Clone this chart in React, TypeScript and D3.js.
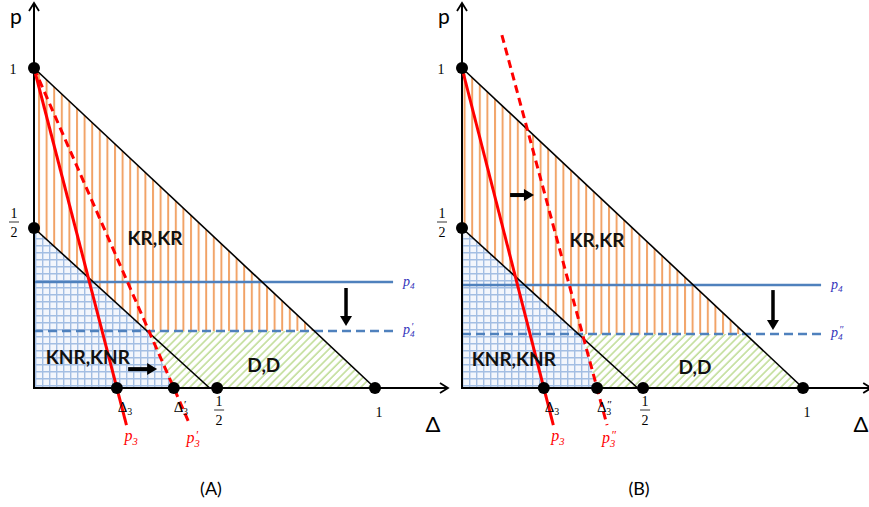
import React from 'react';
import * as d3 from 'd3';

const W = 869;
const H = 507;

// one entry per panel: (A), (B)
const panelNames = ['(A)', '(B)'];
const panelOrigins = [34, 462];
const p4Levels = [0.331, 0.322];
const p4ShiftedLevels = [0.178, 0.169];
const primeMarks = ['\u2032', '\u2033'];
const delta3Values = [0.243, 0.24];
const delta3ShiftedValues = [0.41, 0.396];
const p3ShiftedStart = [[0, 1], [0.117, 1.103]];
const halfTickValues = [0.537, 0.531];
const xAxisEnds = [1.214, 1.2];

// shared boundaries
const upperLine = [[0, 1], [1, 0]];
const lowerLine = [[0, 0.5], [0.515, 0]];
const redLineEnd = -0.116;
const p4LineEnd = 1.053;
const yTickValues = [1, 0.5];
const yTickLabels = ['1', '1/2'];

const regionLabels = ['KR,KR', 'KNR,KNR', 'D,D'];

const serif = '"Liberation Serif", "DejaVu Serif", serif';
const sans = 'Lato, "Open Sans", sans-serif';

// Δ where the segment a-b reaches level p
const atP = (a: number[], b: number[], p: number) =>
  a[0] + ((p - a[1]) * (b[0] - a[0])) / (b[1] - a[1]);

function Fraction({ x, y }: { x: number; y: number }) {
  return (
    <g fontFamily={serif} fontSize={14} textAnchor="middle">
      <text x={x} y={y - 3}>1</text>
      <line x1={x - 5} x2={x + 5} y1={y + 1} y2={y + 1} stroke="#000" strokeWidth={0.8} />
      <text x={x} y={y + 16}>2</text>
    </g>
  );
}

// symbol with subscript and optional prime stacked above it
function Sym({ x, y, main, sub, prime, fill = '#000', italic = false, size = 15 }:
  { x: number; y: number; main: string; sub: string; prime?: string; fill?: string; italic?: boolean; size?: number }) {
  const w = main === 'Δ' ? size * 0.62 : size * 0.5;
  return (
    <g fontFamily={serif} fill={fill} fontStyle={italic ? 'italic' : 'normal'}>
      <text x={x} y={y} fontSize={size}>{main}</text>
      <text x={x + w} y={y + size * 0.22} fontSize={size * 0.66}>{sub}</text>
      {prime && <text x={x + w + 1} y={y - size * 0.28} fontSize={size * 0.75}>{prime}</text>}
    </g>
  );
}

function Panel({ i }: { i: number }) {
  const ox = panelOrigins[i];
  const x = d3.scaleLinear().domain([0, 1]).range([ox, ox + 341]);
  const y = d3.scaleLinear().domain([0, 1]).range([388, 68]);
  const line = d3.line<number[]>().x((d) => x(d[0])).y((d) => y(d[1]));

  const p4 = p4Levels[i];
  const p4s = p4ShiftedLevels[i];
  const d3v = delta3Values[i];
  const d3s = delta3ShiftedValues[i];
  const p3a = [0, 1];
  const p3b = [d3v, 0];
  const q3a = p3ShiftedStart[i];
  const q3b = [d3s, 0];

  const U = [atP(upperLine[0], upperLine[1], p4s), p4s];
  const L = [atP(lowerLine[0], lowerLine[1], p4s), p4s];
  const Q = [atP(q3a, q3b, p4s), p4s];

  const orange = [[0, 1], U, L, [0, 0.5]];
  const green = [Q, U, [1, 0], [d3s, 0]];
  const blue = [[0, 0], [0, 0.5], L, Q, [d3s, 0]];

  const p3Line = [p3a, [atP(p3a, p3b, redLineEnd), redLineEnd]];
  const q3Line = [q3a, [atP(q3a, q3b, redLineEnd), redLineEnd]];

  const xEnd = x(xAxisEnds[i]);
  const prime = primeMarks[i];

  const labelPos = i === 0
    ? [[0.355, 0.469], [0.158, 0.097], [0.674, 0.072]]
    : [[0.396, 0.4625], [0.152, 0.091], [0.683, 0.066]];
  const rightArrow = i === 0 ? [0.276, 0.361, 0.059] : [0.141, 0.211, 0.603];
  const downArrow = i === 0 ? [0.915, 0.3125, 0.194] : [0.912, 0.306, 0.181];

  const dots = [[0, 1], [0, 0.5], [d3v, 0], [d3s, 0], [halfTickValues[i], 0], [1, 0]];

  return (
    <g>
      <path d={line(blue) + 'Z'} fill="url(#blueGrid)" />
      <path d={line(orange) + 'Z'} fill="url(#orangeLines)" />
      <path d={line(green) + 'Z'} fill="url(#greenHatch)" />

      {/* p4 levels */}
      <line x1={x(0)} x2={x(p4LineEnd)} y1={y(p4)} y2={y(p4)} stroke="#4F81BD" strokeWidth={2.5} />
      <line x1={x(0)} x2={x(p4LineEnd)} y1={y(p4s)} y2={y(p4s)} stroke="#4F81BD" strokeWidth={2.5} strokeDasharray="9,5" />

      {/* boundaries */}
      <path d={line(upperLine) ?? ''} stroke="#000" strokeWidth={1.6} fill="none" />
      <path d={line(lowerLine) ?? ''} stroke="#000" strokeWidth={1.6} fill="none" />

      {/* axes */}
      <line x1={x(0)} x2={x(0)} y1={y(0) + 1} y2={3} stroke="#000" strokeWidth={2} />
      <path d={`M${x(0) - 5},${11} L${x(0)},${3} L${x(0) + 5},${11}`} stroke="#000" strokeWidth={1.8} fill="none" />
      <line x1={x(0) - 1} x2={xEnd} y1={y(0)} y2={y(0)} stroke="#000" strokeWidth={2} />
      <path d={`M${xEnd - 8},${y(0) - 5} L${xEnd},${y(0)} L${xEnd - 8},${y(0) + 5}`} stroke="#000" strokeWidth={1.8} fill="none" />

      {/* p3 lines */}
      <path d={line(p3Line) ?? ''} stroke="#FF0000" strokeWidth={3} fill="none" />
      <path d={line(q3Line) ?? ''} stroke="#FF0000" strokeWidth={3} fill="none" strokeDasharray="8,5" />

      {dots.map((d, k) => (
        <circle key={k} cx={x(d[0])} cy={y(d[1])} r={6} fill="#000" />
      ))}

      {/* shift arrows */}
      <line x1={x(rightArrow[0])} x2={x(rightArrow[1]) - 9} y1={y(rightArrow[2])} y2={y(rightArrow[2])} stroke="#000" strokeWidth={4} />
      <path d={`M${x(rightArrow[1]) - 10},${y(rightArrow[2]) - 6} L${x(rightArrow[1])},${y(rightArrow[2])} L${x(rightArrow[1]) - 10},${y(rightArrow[2]) + 6}Z`} fill="#000" />
      <line x1={x(downArrow[0])} x2={x(downArrow[0])} y1={y(downArrow[1])} y2={y(downArrow[2]) - 9} stroke="#000" strokeWidth={3.5} />
      <path d={`M${x(downArrow[0]) - 6},${y(downArrow[2]) - 10} L${x(downArrow[0])},${y(downArrow[2])} L${x(downArrow[0]) + 6},${y(downArrow[2]) - 10}Z`} fill="#000" />

      {/* region labels */}
      {regionLabels.map((t, k) => (
        <text key={t} x={x(labelPos[k][0])} y={y(labelPos[k][1])} dy="0.35em" textAnchor="middle"
          fontFamily={sans} fontWeight="bold" fontSize={19} fill="#111">{t}</text>
      ))}

      {/* axis titles */}
      <text x={x(0) - 18} y={24} fontFamily={sans} fontSize={21} textAnchor="middle">p</text>
      <text x={x(0) + 399} y={432} fontFamily={sans} fontSize={22} textAnchor="middle">Δ</text>
      <text x={x(0) + 177} y={495} fontFamily={sans} fontSize={18} textAnchor="middle">{panelNames[i]}</text>

      {/* y ticks */}
      <text x={x(0) - 21} y={y(yTickValues[0]) + 6} fontFamily={serif} fontSize={14} textAnchor="middle">{yTickLabels[0]}</text>
      <Fraction x={x(0) - 20} y={y(yTickValues[1]) - 7} />

      {/* x ticks */}
      <Fraction x={x(halfTickValues[i]) + 2} y={y(0) + 21} />
      <text x={x(1) + 4} y={y(0) + 29} fontFamily={serif} fontSize={14} textAnchor="middle">1</text>

      {/* delta labels */}
      <Sym x={x(d3v) + 1} y={y(0) + 24} main="Δ" sub="3" />
      <Sym x={x(d3s) + 0} y={y(0) + 24} main="Δ" sub="3" prime={prime} />

      {/* p3 labels */}
      <Sym x={x(atP(p3a, p3b, -0.14)) - 4} y={y(0) + 53} main="p" sub="3" fill="#FF0000" italic size={16} />
      <Sym x={x(atP(q3a, q3b, -0.14)) - 7} y={y(0) + 55} main="p" sub="3" prime={prime} fill="#FF0000" italic size={16} />

      {/* p4 labels */}
      <Sym x={x(p4LineEnd) + 10} y={y(p4) + 4} main="p" sub="4" fill="#3333BB" italic size={14} />
      <Sym x={x(p4LineEnd) + 10} y={y(p4s) + 3} main="p" sub="4" prime={prime} fill="#3333BB" italic size={14} />
    </g>
  );
}

export default function App() {
  return (
    <svg width={W} height={H} style={{ position: 'absolute', left: 0, top: 0, background: '#fff' }}>
      <defs>
        <pattern id="orangeLines" patternUnits="userSpaceOnUse" width={7.6} height={10}>
          <rect width={7.6} height={10} fill="#fff" />
          <line x1={1} x2={1} y1={0} y2={10} stroke="#F5B88A" strokeWidth={2} />
          <line x1={1} x2={1} y1={0} y2={10} stroke="#EE8B3F" strokeWidth={0.9} />
        </pattern>
        <pattern id="blueGrid" patternUnits="userSpaceOnUse" width={7} height={7}>
          <rect width={7} height={7} fill="#F3F6FC" />
          <path d="M0,0.7 H7 M0.7,0 V7" stroke="#A3BEE3" strokeWidth={1.4} />
        </pattern>
        <pattern id="greenHatch" patternUnits="userSpaceOnUse" width={5.5} height={10} patternTransform="rotate(45)">
          <rect width={5.5} height={10} fill="#fff" />
          <line x1={1} x2={1} y1={0} y2={10} stroke="#A5CE6B" strokeWidth={1.1} />
        </pattern>
      </defs>
      <Panel i={0} />
      <Panel i={1} />
    </svg>
  );
}
